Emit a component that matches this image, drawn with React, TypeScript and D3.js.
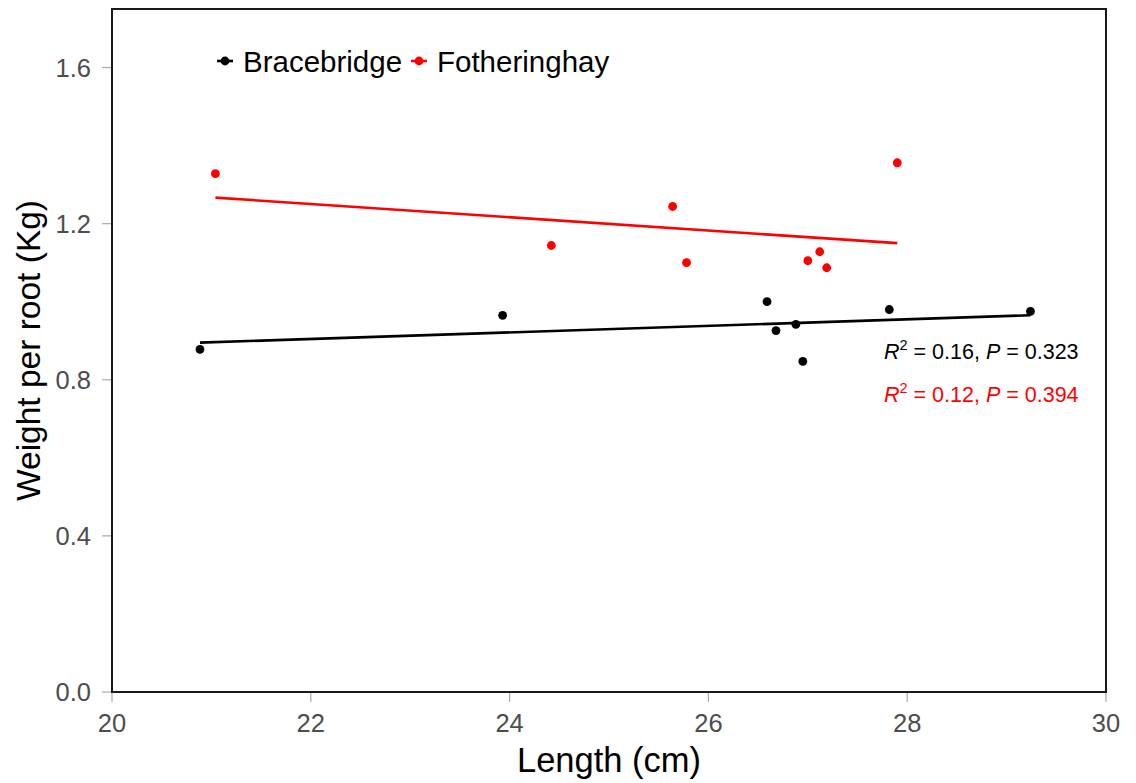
import React from "react";
import * as d3 from "d3";

const seriesNames = ["Bracebridge", "Fotheringhay"];
const seriesColors = ["#000000", "#ff0000"];
const braceLength = [20.885, 23.93, 26.59, 26.68, 26.88, 26.95, 27.82, 29.24];
const braceWeight = [0.878, 0.965, 1.0, 0.926, 0.942, 0.847, 0.98, 0.975];
const fothLength = [21.04, 24.42, 25.64, 25.78, 27.0, 27.12, 27.19, 27.9];
const fothWeight = [1.328, 1.144, 1.244, 1.1, 1.105, 1.128, 1.087, 1.356];
const xTicks = [20, 22, 24, 26, 28, 30];
const yTicks = [0.0, 0.4, 0.8, 1.2, 1.6];
const statsR2 = ["0.16", "0.12"];
const statsP = ["0.323", "0.394"];

const W = 1136;
const H = 783;
const left = 112;
const right = 1106;
const top = 9;
const bottom = 692;
const FONT = "'Liberation Sans', Arial, Helvetica, sans-serif";

function fit(xs: number[], ys: number[]) {
  const mx = d3.mean(xs)!;
  const my = d3.mean(ys)!;
  let sxy = 0;
  let sxx = 0;
  xs.forEach((x, i) => {
    sxy += (x - mx) * (ys[i] - my);
    sxx += (x - mx) * (x - mx);
  });
  const b = sxy / sxx;
  const a = my - b * mx;
  const [x0, x1] = d3.extent(xs) as [number, number];
  return [
    [x0, a + b * x0],
    [x1, a + b * x1],
  ] as [number, number][];
}

export default function App() {
  const x = d3.scaleLinear().domain([20, 30]).range([left, right]);
  const y = d3.scaleLinear().domain([0, 1.75]).range([bottom, top]);
  const series = [
    { xs: braceLength, ys: braceWeight },
    { xs: fothLength, ys: fothWeight },
  ];
  const line = d3
    .line<[number, number]>()
    .x((d) => x(d[0]))
    .y((d) => y(d[1]));

  const legendX = [217, 411];
  return (
    <svg
      width={W}
      height={H}
      style={{ position: "absolute", left: 0, top: 0, background: "#fff" }}
      fontFamily={FONT}
    >
      <rect x={0} y={0} width={W} height={H} fill="#fff" />
      {/* ticks */}
      {xTicks.map((t) => (
        <g key={"x" + t}>
          <line x1={x(t)} x2={x(t)} y1={bottom} y2={bottom + 10} stroke="#aaa" strokeWidth={1.2} />
          <text x={x(t)} y={732} textAnchor="middle" fontSize={25.5} fill="#4d4d4d">
            {t}
          </text>
        </g>
      ))}
      {yTicks.map((t) => (
        <g key={"y" + t}>
          <line x1={left - 10} x2={left} y1={y(t)} y2={y(t)} stroke="#aaa" strokeWidth={1.2} />
          <text x={91} y={y(t) + 9} textAnchor="end" fontSize={25.5} fill="#4d4d4d">
            {t.toFixed(1)}
          </text>
        </g>
      ))}
      {/* regression lines */}
      {series.map((s, i) => (
        <path
          key={"l" + i}
          d={line(fit(s.xs, s.ys))!}
          stroke={seriesColors[i]}
          strokeWidth={2.6}
          fill="none"
        />
      ))}
      {/* points */}
      {series.map((s, i) =>
        s.xs.map((v, j) => (
          <circle key={"p" + i + "-" + j} cx={x(v)} cy={y(s.ys[j])} r={4.4} fill={seriesColors[i]} />
        ))
      )}
      {/* frame */}
      <rect
        x={left}
        y={top}
        width={right - left}
        height={bottom - top}
        fill="none"
        stroke="#1a1a1a"
        strokeWidth={2}
      />
      {/* legend */}
      {seriesNames.map((n, i) => (
        <g key={"lg" + i}>
          <line x1={legendX[i]} x2={legendX[i] + 16} y1={61} y2={61} stroke={seriesColors[i]} strokeWidth={2.6} />
          <circle cx={legendX[i] + 8} cy={61} r={4.4} fill={seriesColors[i]} />
          <text x={legendX[i] + 26} y={72} fontSize={29.5} fill="#000">
            {n}
          </text>
        </g>
      ))}
      {/* stats */}
      {statsR2.map((r, i) => (
        <text key={"st" + i} x={884} y={359 + i * 43} fontSize={21.5} fill={seriesColors[i]}>
          <tspan fontStyle="italic">R</tspan>
          <tspan fontSize={14.5} dy={-9}>2</tspan>
          <tspan dy={9}>{" = " + r + ", "}</tspan>
          <tspan fontStyle="italic">P</tspan>
          <tspan>{" = " + statsP[i]}</tspan>
        </text>
      ))}
      {/* axis titles */}
      <text x={(left + right) / 2} y={772} textAnchor="middle" fontSize={34.5} fill="#000">
        Length (cm)
      </text>
      <text
        transform={`translate(40, ${(top + bottom) / 2}) rotate(-90)`}
        textAnchor="middle"
        fontSize={33.5}
        fill="#000"
      >
        Weight per root (Kg)
      </text>
    </svg>
  );
}
